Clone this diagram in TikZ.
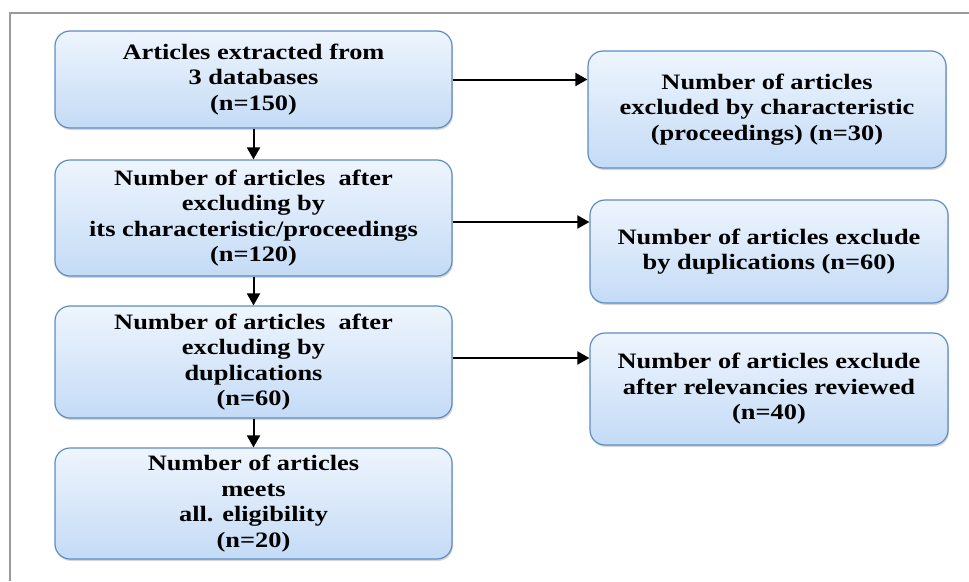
\documentclass[tikz,border=0pt]{standalone}
\usepackage{fontspec}
\setmainfont[FakeStretch=1.2]{Liberation Serif}
\usetikzlibrary{arrows.meta,shadows}
\definecolor{boxline}{HTML}{5E8CC4}
\definecolor{boxtop}{HTML}{EEF5FD}
\definecolor{boxbot}{HTML}{C4DBF6}
\definecolor{framegray}{HTML}{9A9A9A}
\tikzset{
  flowbox/.style={rectangle, rounded corners=15pt, draw=boxline, line width=1.2pt,
    top color=boxtop, bottom color=boxbot, align=center, inner sep=2pt,
    font=\fontsize{22}{25.5}\selectfont\bfseries,
    drop shadow={shadow xshift=1pt, shadow yshift=-2pt, opacity=0.25, fill=black!60}},
  leftbox/.style={flowbox, minimum width=397pt},
  rightbox/.style={flowbox, minimum width=358pt},
  flowarrow/.style={line width=2pt, -{Triangle[length=12pt,width=13pt]}}
}
\begin{document}
\begin{tikzpicture}[x=1pt,y=-1pt]
\useasboundingbox[fill=white] (0,0) rectangle (969,581);
\draw[framegray, line width=1.5pt] (969,13) -- (10,13) -- (10,581);

\node[leftbox, minimum height=97pt] (b1) at (253.5,79.5)
  {Articles extracted from\\3 databases\\(n=150)};
\node[leftbox, minimum height=116pt] (b2) at (253.5,218)
  {Number of articles\ \ after\\excluding by\\its characteristic/proceedings\\(n=120)};
\node[leftbox, minimum height=112pt] (b3) at (253.5,362)
  {Number of articles\ \ after\\excluding by\\duplications\\(n=60)};
\node[leftbox, minimum height=111pt] (b4) at (253.5,503.5)
  {Number of articles\\meets\\all. eligibility\\(n=20)};

\node[rightbox, minimum height=117pt] (r1) at (767,109.5)
  {Number of articles\\excluded by characteristic\\(proceedings) (n=30)};
\node[rightbox, minimum height=103pt] (r2) at (769,251.5)
  {Number of articles exclude\\by duplications (n=60)};
\node[rightbox, minimum height=112pt] (r3) at (769,389)
  {Number of articles exclude\\after relevancies reviewed\\(n=40)};

\draw[flowarrow] (b1.south) -- (b2.north);
\draw[flowarrow] (b2.south) -- (b3.north);
\draw[flowarrow] (b3.south) -- (b4.north);

\draw[flowarrow] (b1.east) -- (b1.east -| r1.west);
\draw[flowarrow] ([yshift=-4pt]b2.east) -- ([yshift=-4pt]b2.east -| r2.west);
\draw[flowarrow] ([yshift=4pt]b3.east) -- ([yshift=4pt]b3.east -| r3.west);
\end{tikzpicture}
\end{document}
